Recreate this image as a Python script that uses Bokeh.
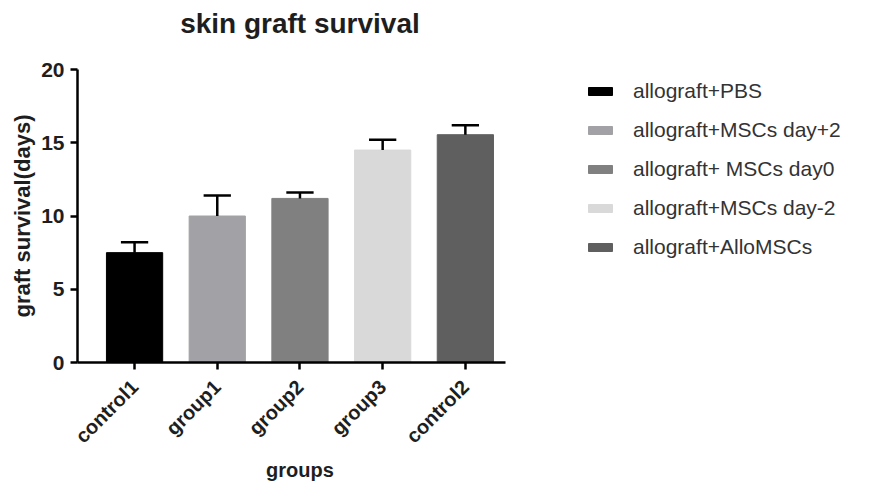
import math
from bokeh.plotting import figure
from bokeh.models import (ColumnDataSource, FixedTicker, Legend, LegendItem, Label, Range1d)
from bokeh.embed import file_html
from bokeh.resources import INLINE

groups = ["control1", "group1", "group2", "group3", "control2"]
series = ["allograft+PBS", "allograft+MSCs day+2", "allograft+ MSCs day0",
          "allograft+MSCs day-2", "allograft+AlloMSCs"]
means = [7.5, 10.0, 11.2, 14.5, 15.55]
errors = [0.7, 1.4, 0.4, 0.7, 0.65]
colors = ["#000000", "#a2a2a6", "#808080", "#d9d9d9", "#5f5f5f"]
y_ticks = [0, 5, 10, 15, 20]
title_text = "skin graft survival"
x_title = "groups"
y_title = "graft survival(days)"

FONT = "Liberation Sans"
TXT = "#1e1e1e"
xs = list(range(1, len(groups) + 1))
tops = [m + e for m, e in zip(means, errors)]

# canvas geometry (pixels) -> data ranges
W, H = 856, 485
AX_LEFT, AX_BOTTOM = 77, 362     # pixel position of the axes' origin
PX_X = 82.7                      # pixels per category step
PX_Y = 14.65                     # pixels per day
x0 = 0.31                        # data x at the y axis
x_start = x0 - AX_LEFT / PX_X
x_end = x_start + W / PX_X
y_start = -(H - AX_BOTTOM) / PX_Y
y_end = AX_BOTTOM / PX_Y

src = ColumnDataSource(dict(x=xs, top=means, err_top=tops, color=colors, label=series))

p = figure(width=W, height=H, output_backend="svg", toolbar_location=None,
           x_range=Range1d(x_start, x_end), y_range=Range1d(y_start, y_end))
p.min_border = 0
p.min_border_left = 0
p.min_border_right = 0
p.min_border_top = 0
p.min_border_bottom = 0
p.outline_line_color = None
p.grid.visible = False

bars = p.vbar(x="x", top="top", width=0.68, bottom=0, fill_color="color",
              line_color="color", source=src)
p.segment(x0="x", y0="top", x1="x", y1="err_top", line_color="black", line_width=2.5, source=src)
p.segment(x0=[x - 0.165 for x in xs], y0=tops, x1=[x + 0.165 for x in xs], y1=tops,
          line_color="black", line_width=2.5)

p.xaxis.ticker = FixedTicker(ticks=xs)
p.xaxis.major_label_overrides = {x: g for x, g in zip(xs, groups)}
p.xaxis.major_label_orientation = math.pi / 4
p.xaxis.bounds = (x0, xs[-1] + 0.48)
p.xaxis.fixed_location = 0
p.yaxis.ticker = FixedTicker(ticks=y_ticks)
p.yaxis.bounds = (0, y_ticks[-1])
p.yaxis.fixed_location = x0

for ax in (p.xaxis[0], p.yaxis[0]):
    ax.axis_line_width = 2.5
    ax.axis_line_color = "black"
    ax.major_tick_line_width = 2.5
    ax.major_tick_line_color = "black"
    ax.major_tick_in = 0
    ax.major_tick_out = 7
    ax.minor_tick_line_color = None
    ax.major_label_text_font = FONT
    ax.major_label_text_font_style = "bold"
    ax.major_label_text_color = TXT

p.xaxis.major_label_text_font_size = "20px"
p.xaxis.major_label_standoff = 14
p.yaxis.major_label_text_font_size = "21px"
p.yaxis.major_label_standoff = 6

common = dict(text_font=FONT, text_font_style="bold", text_color=TXT,
              text_align="center", text_baseline="middle")
p.add_layout(Label(x=(xs[0] + xs[-1]) / 2, y=23.15, text=title_text,
                   text_font_size="28px", **common))
p.add_layout(Label(x=(xs[0] + xs[-1]) / 2, y=-7.35, text=x_title,
                   text_font_size="20px", **common))
p.add_layout(Label(x=x0 - 0.665, y=(y_ticks[0] + y_ticks[-1]) / 2, text=y_title,
                   angle=math.pi / 2, text_font_size="22px", **common))

items = [LegendItem(label=s, renderers=[bars], index=i) for i, s in enumerate(series)]
legend = Legend(items=items, location=(585, 226), orientation="vertical",
                glyph_width=30, glyph_height=10, label_height=20, spacing=15,
                label_standoff=18, padding=0, margin=0,
                label_text_font=FONT, label_text_font_size="21px",
                label_text_color="#333333",
                border_line_color=None, background_fill_alpha=0)
p.add_layout(legend)

open("out.html", "w").write(file_html(p, INLINE))
